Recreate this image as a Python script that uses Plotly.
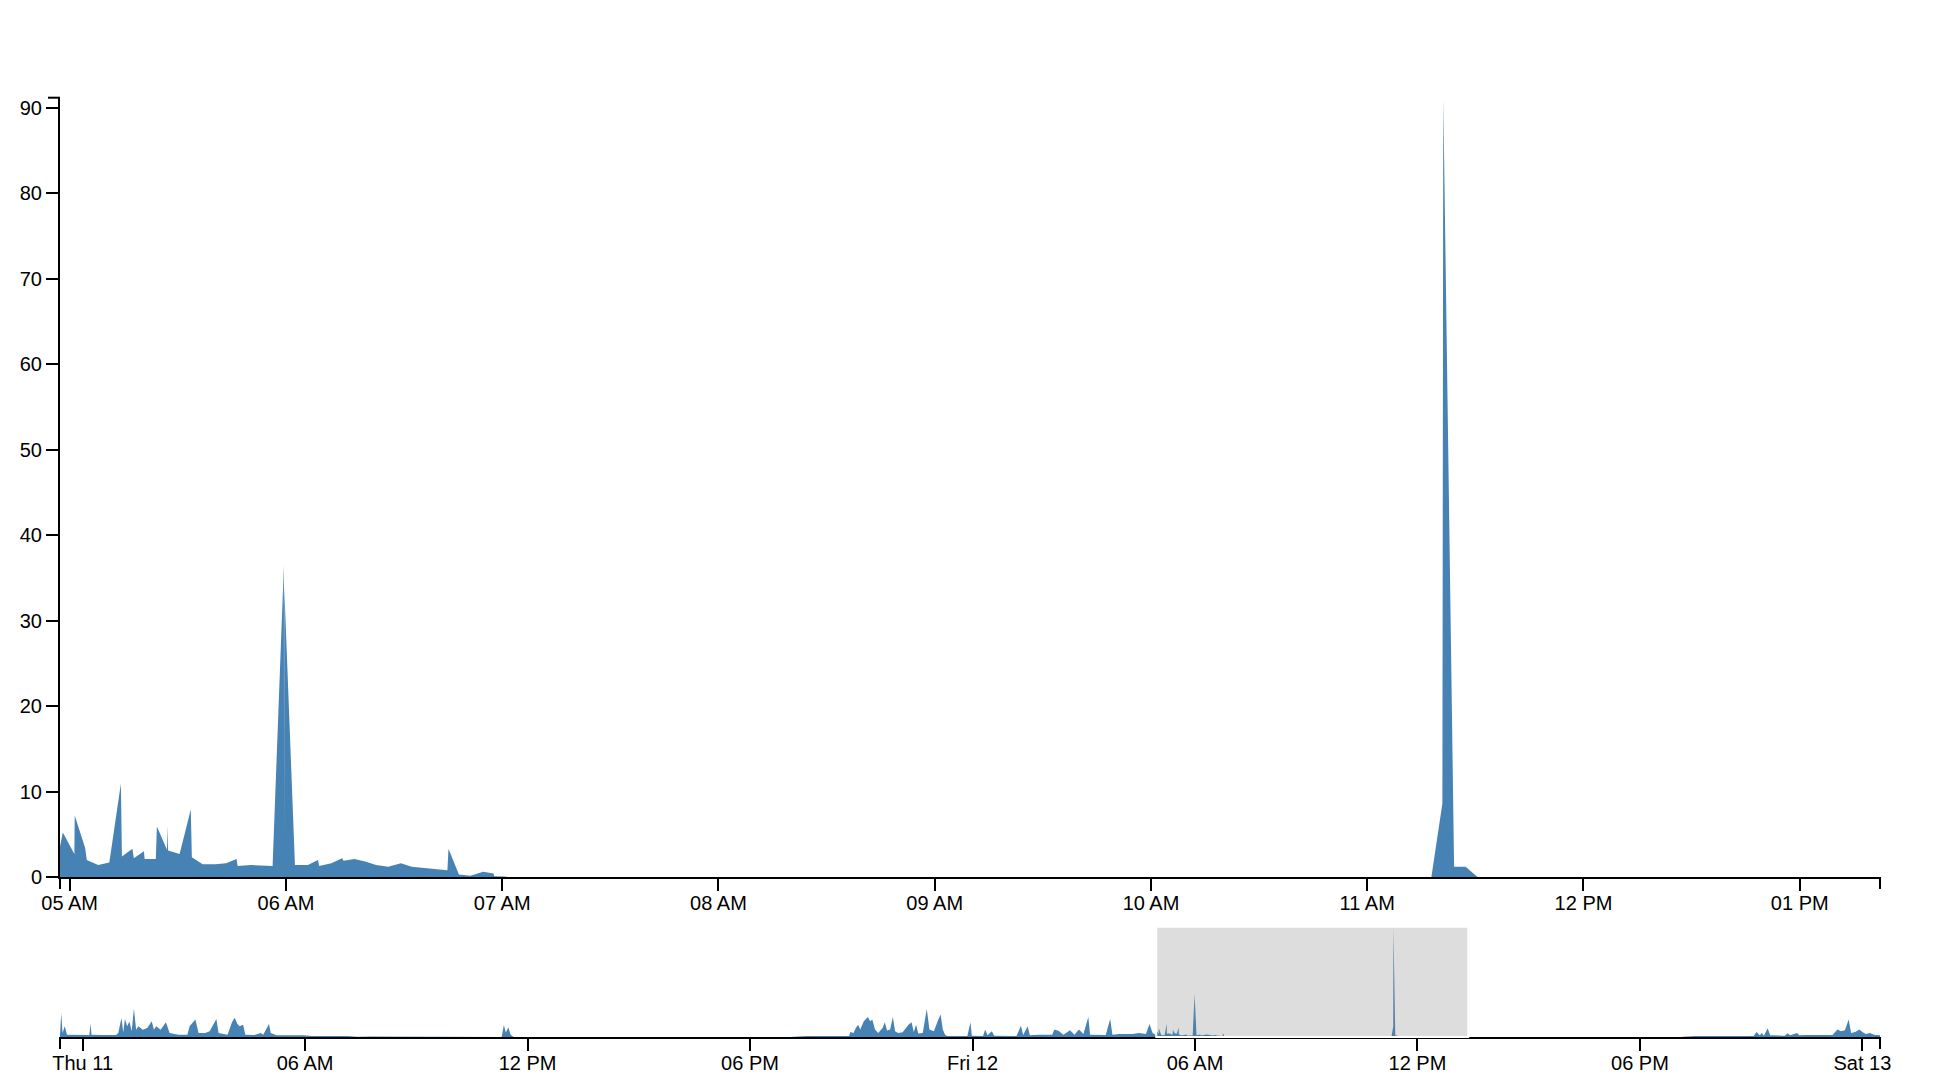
import plotly.graph_objects as go

times = [
    "2015-06-10 23:23:24", "2015-06-10 23:25:24", "2015-06-10 23:27:30", "2015-06-10 23:31:06",
    "2015-06-10 23:34:42", "2015-06-10 23:45:36",
    "2015-06-11 00:00:00", "2015-06-11 00:10:48", "2015-06-11 00:13:00", "2015-06-11 00:14:24",
    "2015-06-11 00:32:30", "2015-06-11 00:54:06", "2015-06-11 00:57:42", "2015-06-11 01:02:48",
    "2015-06-11 01:05:42", "2015-06-11 01:08:30", "2015-06-11 01:12:06", "2015-06-11 01:15:42",
    "2015-06-11 01:19:24", "2015-06-11 01:23:00", "2015-06-11 01:26:36", "2015-06-11 01:30:12",
    "2015-06-11 01:37:24", "2015-06-11 01:44:36", "2015-06-11 01:51:48", "2015-06-11 01:55:24",
    "2015-06-11 01:59:00", "2015-06-11 02:06:12", "2015-06-11 02:14:54", "2015-06-11 02:20:42",
    "2015-06-11 02:35:06", "2015-06-11 02:49:30", "2015-06-11 02:53:06", "2015-06-11 03:02:30",
    "2015-06-11 03:07:36", "2015-06-11 03:18:24", "2015-06-11 03:25:36", "2015-06-11 03:36:24",
    "2015-06-11 03:40:00", "2015-06-11 03:54:30", "2015-06-11 04:01:42", "2015-06-11 04:06:00",
    "2015-06-11 04:10:18", "2015-06-11 04:13:54", "2015-06-11 04:19:42", "2015-06-11 04:23:18",
    "2015-06-11 04:37:42", "2015-06-11 04:48:36", "2015-06-11 04:52:12", "2015-06-11 05:01:36",
    "2015-06-11 05:04:24", "2015-06-11 05:13:48", "2015-06-11 05:57:06", "2015-06-11 06:11:30",
    "2015-06-11 07:09:12", "2015-06-11 07:23:30", "2015-06-11 07:45:18", "2015-06-11 08:07:00",
    "2015-06-11 08:10:36", "2015-06-11 11:18:00", "2015-06-11 11:21:42", "2015-06-11 11:24:36",
    "2015-06-11 11:26:48", "2015-06-11 11:28:54", "2015-06-11 11:32:36", "2015-06-11 11:36:12",
    "2015-06-11 11:37:36", "2015-06-11 19:06:24", "2015-06-11 19:10:00", "2015-06-11 19:31:42",
    "2015-06-11 20:40:18", "2015-06-11 20:42:30", "2015-06-11 20:47:30", "2015-06-11 20:51:12",
    "2015-06-11 20:54:48", "2015-06-11 20:58:24", "2015-06-11 21:04:06", "2015-06-11 21:10:42",
    "2015-06-11 21:14:18", "2015-06-11 21:17:54", "2015-06-11 21:22:12", "2015-06-11 21:27:18",
    "2015-06-11 21:34:30", "2015-06-11 21:38:06", "2015-06-11 21:41:42", "2015-06-11 21:46:42",
    "2015-06-11 21:51:06", "2015-06-11 21:54:42", "2015-06-11 21:59:48", "2015-06-11 22:07:00",
    "2015-06-11 22:16:24", "2015-06-11 22:21:24", "2015-06-11 22:25:00", "2015-06-11 22:28:42",
    "2015-06-11 22:32:18", "2015-06-11 22:39:30", "2015-06-11 22:46:00", "2015-06-11 22:50:18",
    "2015-06-11 22:57:30", "2015-06-11 23:04:42", "2015-06-11 23:08:24", "2015-06-11 23:12:00",
    "2015-06-11 23:15:36", "2015-06-11 23:19:12", "2015-06-11 23:51:42", "2015-06-11 23:56:48",
    "2015-06-11 23:58:54",
    "2015-06-12 00:17:00", "2015-06-12 00:20:36", "2015-06-12 00:24:12", "2015-06-12 00:31:24",
    "2015-06-12 00:35:00", "2015-06-12 01:11:12", "2015-06-12 01:18:24", "2015-06-12 01:22:00",
    "2015-06-12 01:29:12", "2015-06-12 01:32:48", "2015-06-12 01:47:18", "2015-06-12 02:08:54",
    "2015-06-12 02:12:30", "2015-06-12 02:19:42", "2015-06-12 02:27:00", "2015-06-12 02:37:48",
    "2015-06-12 02:45:00", "2015-06-12 02:52:18", "2015-06-12 02:59:30", "2015-06-12 03:07:24",
    "2015-06-12 03:10:18", "2015-06-12 03:35:36", "2015-06-12 03:42:48", "2015-06-12 03:46:24",
    "2015-06-12 03:57:18", "2015-06-12 04:18:54", "2015-06-12 04:29:42", "2015-06-12 04:40:36",
    "2015-06-12 04:46:24", "2015-06-12 04:51:24", "2015-06-12 04:56:30", "2015-06-12 04:58:06",
    "2015-06-12 05:01:18", "2015-06-12 05:01:24", "2015-06-12 05:04:18", "2015-06-12 05:04:45",
    "2015-06-12 05:07:54", "2015-06-12 05:11:00", "2015-06-12 05:14:12", "2015-06-12 05:14:30",
    "2015-06-12 05:17:24", "2015-06-12 05:17:48", "2015-06-12 05:20:36", "2015-06-12 05:20:48",
    "2015-06-12 05:23:54", "2015-06-12 05:24:12", "2015-06-12 05:27:00", "2015-06-12 05:27:12",
    "2015-06-12 05:27:18", "2015-06-12 05:30:30", "2015-06-12 05:33:36", "2015-06-12 05:33:54",
    "2015-06-12 05:36:54", "2015-06-12 05:40:24", "2015-06-12 05:43:24", "2015-06-12 05:46:18",
    "2015-06-12 05:46:36", "2015-06-12 05:50:18", "2015-06-12 05:56:18", "2015-06-12 05:59:26",
    "2015-06-12 05:59:29", "2015-06-12 05:59:32", "2015-06-12 06:02:30", "2015-06-12 06:06:06",
    "2015-06-12 06:08:54", "2015-06-12 06:09:12", "2015-06-12 06:12:36", "2015-06-12 06:15:36",
    "2015-06-12 06:16:00", "2015-06-12 06:19:00", "2015-06-12 06:22:00", "2015-06-12 06:25:00",
    "2015-06-12 06:28:24", "2015-06-12 06:31:54", "2015-06-12 06:34:54", "2015-06-12 06:44:48",
    "2015-06-12 06:45:06", "2015-06-12 06:48:00", "2015-06-12 06:51:12", "2015-06-12 06:54:42",
    "2015-06-12 06:57:36", "2015-06-12 06:57:48", "2015-06-12 07:00:36", "2015-06-12 07:01:36",
    "2015-06-12 11:17:48", "2015-06-12 11:20:51", "2015-06-12 11:21:06", "2015-06-12 11:24:06",
    "2015-06-12 11:27:18", "2015-06-12 11:30:36", "2015-06-12 19:06:12", "2015-06-12 19:09:36",
    "2015-06-12 19:29:48", "2015-06-12 21:03:54", "2015-06-12 21:08:36", "2015-06-12 21:14:00",
    "2015-06-12 21:17:18", "2015-06-12 21:20:42", "2015-06-12 21:26:42", "2015-06-12 21:30:48",
    "2015-06-12 21:54:18", "2015-06-12 21:59:00", "2015-06-12 22:03:00", "2015-06-12 22:14:30",
    "2015-06-12 22:17:48", "2015-06-12 22:27:54", "2015-06-12 23:11:36", "2015-06-12 23:14:54",
    "2015-06-12 23:19:42", "2015-06-12 23:25:00", "2015-06-12 23:31:42", "2015-06-12 23:37:48",
    "2015-06-12 23:41:48", "2015-06-12 23:48:30", "2015-06-12 23:55:18",
    "2015-06-13 00:00:00", "2015-06-13 00:05:24", "2015-06-13 00:12:06", "2015-06-13 00:18:48",
    "2015-06-13 00:28:30",
]

counts = [
    2.0, 19.9, 3.3, 8.8,
    1.9, 1.9,
    1.9, 1.7, 11.0, 1.9,
    1.7, 1.7, 3.3, 15.8,
    4.0, 14.9, 8.9, 12.9,
    5.0, 23.5, 6.0, 8.9,
    6.0, 7.5, 13.0, 6.0,
    8.9, 6.0, 12.2, 3.3,
    1.9, 1.9, 8.9, 14.4,
    3.3, 3.3, 4.7, 14.9,
    3.3, 1.9, 12.2, 16.0,
    11.0, 8.9, 10.2, 1.9,
    1.7, 3.3, 1.9, 10.8,
    3.3, 1.4, 1.4, 0.8,
    0.8, 0.3, 0.5, 0.5,
    0.0, 0.0, 10.0, 4.0,
    5.5, 8.0, 1.9, 0.5,
    0.0, 0.0, 0.3, 0.8,
    0.8, 4.1, 3.3, 7.5,
    10.2, 6.1, 13.0, 16.6,
    13.0, 14.4, 6.1, 3.3,
    7.5, 12.2, 5.3, 6.1,
    16.6, 4.7, 3.3, 3.9,
    10.2, 12.2, 4.1, 10.2,
    2.8, 3.3, 23.2, 6.1,
    4.7, 14.4, 18.5, 6.1,
    1.9, 0.8, 0.8, 12.2,
    1.1,
    0.8, 6.1, 1.4, 4.7,
    1.1, 0.8, 9.4, 1.7,
    8.8, 1.4, 1.9, 1.9,
    6.1, 5.0, 1.9, 5.5,
    1.9, 6.1, 2.5, 16.6,
    1.9, 1.7, 14.9, 1.9,
    2.5, 2.5, 3.3, 2.5,
    10.8, 3.3, 1.8, 5.2,
    2.7, 7.2, 3.4, 2.0,
    1.4, 1.7, 10.9, 2.4,
    3.3, 2.2, 3.0, 2.1,
    2.1, 5.9, 3.2, 6.0,
    3.1, 2.7, 7.9, 2.3,
    1.5, 1.5, 1.6, 2.1,
    1.3, 1.4, 1.3, 36.5,
    3.5, 34.0, 1.4, 1.4,
    2.0, 1.3, 1.6, 2.2,
    1.9, 2.1, 1.8, 1.4,
    1.2, 1.6, 1.2, 0.8,
    3.3, 0.3, 0.15, 0.6,
    0.4, 0.1, 0.05, 0.0,
    0.0, 8.6, 91.2, 1.2,
    1.2, 0.0, 0.0, 0.3,
    0.8, 0.8, 4.1, 1.4,
    3.3, 1.1, 7.2, 1.4,
    1.1, 3.0, 1.4, 3.3,
    1.4, 1.7, 1.7, 3.3,
    6.1, 4.7, 5.5, 14.4,
    3.3, 4.1, 6.1,
    4.1, 2.5, 3.3, 1.9,
    1.4,
]

# brushed window shown in the focus chart
brush = ["2015-06-12 04:57:19", "2015-06-12 13:22:16"]

focus_tickvals = ["2015-06-12 05:00", "2015-06-12 06:00", "2015-06-12 07:00", "2015-06-12 08:00",
                  "2015-06-12 09:00", "2015-06-12 10:00", "2015-06-12 11:00", "2015-06-12 12:00",
                  "2015-06-12 13:00"]
focus_ticktext = ["05 AM", "06 AM", "07 AM", "08 AM", "09 AM", "10 AM", "11 AM", "12 PM", "01 PM"]

context_tickvals = ["2015-06-11 00:00", "2015-06-11 06:00", "2015-06-11 12:00", "2015-06-11 18:00",
                    "2015-06-12 00:00", "2015-06-12 06:00", "2015-06-12 12:00", "2015-06-12 18:00",
                    "2015-06-13 00:00"]
context_ticktext = ["Thu 11", "06 AM", "12 PM", "06 PM", "Fri 12", "06 AM", "12 PM", "06 PM", "Sat 13"]

y_tickvals = [0, 10, 20, 30, 40, 50, 60, 70, 80, 90]

blue = "steelblue"
font = "Liberation Sans, Arial, Helvetica, sans-serif"

area = dict(mode="lines", line=dict(width=0, color=blue), fill="tozeroy",
            fillcolor=blue, hoverinfo="skip", showlegend=False)

fig = go.Figure()
fig.add_trace(go.Scatter(x=times, y=counts, xaxis="x", yaxis="y", **area))
fig.add_trace(go.Scatter(x=times, y=counts, xaxis="x2", yaxis="y2", **area))

axis_style = dict(showline=True, linecolor="black", linewidth=2, ticks="outside",
                  ticklen=12, tickwidth=2, tickcolor="black", showgrid=False,
                  zeroline=False, automargin=False,
                  tickfont=dict(family=font, size=20, color="black"))

ymax = max(counts)

fig.update_layout(
    width=1952, height=1082,
    margin=dict(l=60, r=72, t=0, b=0),
    plot_bgcolor="white", paper_bgcolor="white",
    font=dict(family=font, size=20, color="black"),
    xaxis=dict(domain=[0, 1], anchor="y", range=brush, tickmode="array",
               tickvals=focus_tickvals, ticktext=focus_ticktext,
               ticklabelstandoff=-5, **axis_style),
    yaxis=dict(domain=[0.18946, 0.9097], anchor="x", range=[0, ymax], tickmode="array",
               tickvals=y_tickvals, **axis_style),
    xaxis2=dict(domain=[0, 1], anchor="y2", range=[times[0], times[-1]], tickmode="array",
                tickvals=context_tickvals, ticktext=context_ticktext,
                ticklabelstandoff=-5, **axis_style),
    yaxis2=dict(domain=[0.04159, 0.14353], anchor="x2", range=[0, ymax], visible=False),
)

# d3-style outer ticks at the axis ends
tick = dict(type="line", line=dict(color="black", width=2), layer="above")
for xr, yr in [("x domain", "y domain"), ("x2 domain", "y2 domain")]:
    for end in [0, 1]:
        fig.add_shape(xref=xr, yref=yr, x0=end, x1=end, ysizemode="pixel",
                      yanchor=0, y0=0, y1=-12, **tick)
fig.add_shape(xref="x domain", yref="y domain", xsizemode="pixel", xanchor=0,
              x0=-12, x1=0, y0=1, y1=1, **tick)

# brush selection on the context chart
fig.add_shape(type="rect", xref="x2", yref="y2 domain", x0=brush[0], x1=brush[1],
              y0=0, y1=1, fillcolor="rgba(119,119,119,0.25)",
              line=dict(color="white", width=2), layer="above")

fig.write_html("out.html", config={"displayModeBar": False})

# drop the browser's default body margin so the figure sits at the page origin
with open("out.html", encoding="utf-8") as f:
    page = f.read()
page = page.replace("<body>", '<body style="margin:0">', 1)
with open("out.html", "w", encoding="utf-8") as f:
    f.write(page)
